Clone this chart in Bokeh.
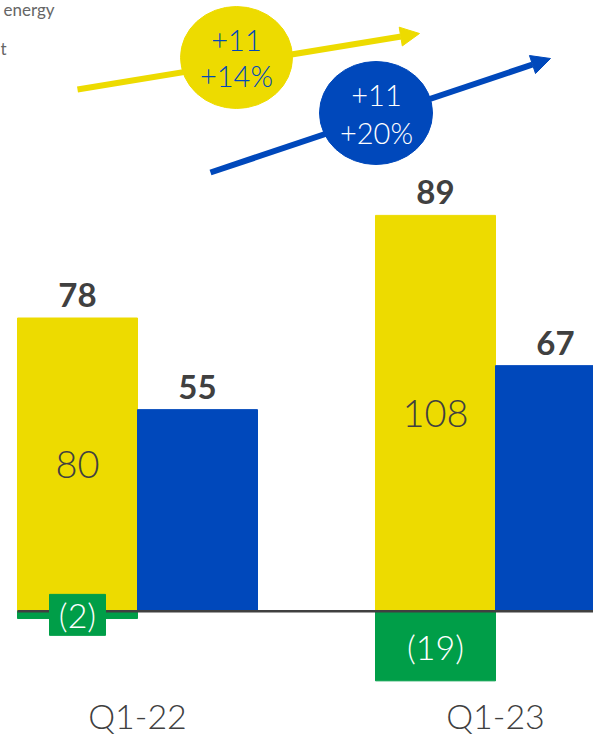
from bokeh.plotting import figure
from bokeh.models import Range1d, Arrow, NormalHead
from bokeh.core.properties import value
from bokeh.embed import file_html
from bokeh.resources import INLINE

# ---------------- data ----------------
quarters = ["Q1-22", "Q1-23"]
renewables = [80, 108]      # yellow bars
grid = [55, 67]             # blue bars
other = [-2, -19]           # green (negative) bars
totals = [78, 89]           # net labels above yellow bars
delta_yellow = ["+11", "+14%"]
delta_blue = ["+11", "+20%"]
legend_fragments = ["energy", "t"]

# ---------------- styles ----------------
YELLOW = "#EDDB00"
BLUE = "#0048BB"
GREEN = "#009E48"
DARK = "#404040"
GREY = "#666666"
FONT = value("Lato")
LIGHT = value("Lato Light, Lato")

W, H = 593, 735
GROUP_PX = 358.0          # pixels between group centres
X0_PX = 137.0             # pixel of first group centre
PX_PER_UNIT = 3.665
Y0_PX = 610.7             # pixel of zero line

x_range = Range1d(-X0_PX / GROUP_PX, (W - X0_PX) / GROUP_PX)
y_range = Range1d(-(H - Y0_PX) / PX_PER_UNIT, Y0_PX / PX_PER_UNIT)


def fx(px):  # pixel -> data x (for decorations)
    return (px - X0_PX) / GROUP_PX


def fy(py):  # pixel -> data y (for decorations)
    return (Y0_PX - py) / PX_PER_UNIT


BW = 120 / GROUP_PX
idx = list(range(len(quarters)))
x_yel = [i - BW / 2 for i in idx]
x_blu = [i + BW / 2 for i in idx]
LABEL_GAP = 23 / PX_PER_UNIT

p = figure(width=W, height=H, x_range=x_range, y_range=y_range,
           x_axis_type=None, y_axis_type=None,
           output_backend="svg", toolbar_location=None, min_border=0)
p.grid.visible = False
p.outline_line_color = None
p.background_fill_color = "white"
p.border_fill_color = "white"

# arrows (under everything)
p.add_layout(Arrow(x_start=fx(77), y_start=fy(89), x_end=fx(419), y_end=fy(33),
                   line_color=YELLOW, line_width=6, level="underlay",
                   end=NormalHead(size=19, fill_color=YELLOW, line_color=YELLOW, line_width=1)))
p.add_layout(Arrow(x_start=fx(210), y_start=fy(172), x_end=fx(550), y_end=fy(58),
                   line_color=BLUE, line_width=6, level="underlay",
                   end=NormalHead(size=19, fill_color=BLUE, line_color=BLUE, line_width=1)))

# bars
p.vbar(x=x_yel, bottom=0, top=renewables, width=BW, color=YELLOW)
p.vbar(x=x_blu, bottom=0, top=grid, width=BW, color=BLUE)
p.vbar(x=x_yel, bottom=other, top=0, width=BW, color=GREEN)

# zero line
p.line(x=[x_yel[0] - BW / 2, x_range.end], y=[0, 0], line_color=DARK, line_width=2.5)

# label box for thin green bar
small = [i for i in idx if abs(other[i]) < 5]
p.rect(x=[x_yel[i] for i in small], y=[other[i] / 2 for i in small],
       width=56 / GROUP_PX, height=41 / PX_PER_UNIT, color=GREEN)

# labels inside yellow bars
p.text(x=x_yel, y=[v / 2 for v in renewables], text=[str(v) for v in renewables],
       text_align="center", text_baseline="middle", text_font=LIGHT,
       text_font_size="38px", text_color=DARK)
# labels of green bars
p.text(x=x_yel, y=[v / 2 for v in other], text=["(%d)" % -v for v in other],
       text_align="center", text_baseline="middle", text_font=LIGHT,
       text_font_size="34px", text_color="white")
# totals above yellow bars
p.text(x=x_yel, y=[v + LABEL_GAP for v in renewables], text=[str(v) for v in totals],
       text_align="center", text_baseline="middle", text_font=FONT,
       text_font_style="bold", text_font_size="33px", text_color=DARK)
# values above blue bars
p.text(x=x_blu, y=[v + LABEL_GAP for v in grid], text=[str(v) for v in grid],
       text_align="center", text_baseline="middle", text_font=FONT,
       text_font_style="bold", text_font_size="33px", text_color=DARK)
# category labels
p.text(x=idx, y=[fy(714.5)] * len(idx), text=quarters,
       text_align="center", text_baseline="middle", text_font=LIGHT,
       text_font_size="34px", text_color=DARK)

# growth bubbles
p.ellipse(x=[fx(236)], y=[fy(57)], width=112 / GROUP_PX, height=102 / PX_PER_UNIT, color=YELLOW)
p.ellipse(x=[fx(375.5)], y=[fy(112.5)], width=113 / GROUP_PX, height=103 / PX_PER_UNIT, color=BLUE)
p.text(x=[fx(236)] * 2, y=[fy(40), fy(75)], text=delta_yellow,
       text_align="center", text_baseline="middle", text_font=LIGHT,
       text_font_size="29px", text_color=BLUE)
p.text(x=[fx(376)] * 2, y=[fy(95), fy(131.7)], text=delta_blue,
       text_align="center", text_baseline="middle", text_font=LIGHT,
       text_font_size="29px", text_color="white")

# clipped legend fragment (top-left)
p.text(x=[fx(3), fx(0)], y=[fy(9), fy(48)], text=legend_fragments,
       text_align="left", text_baseline="middle", text_font=FONT,
       text_font_size="17px", text_color=GREY)

open("out.html", "w").write(file_html(p, INLINE))
